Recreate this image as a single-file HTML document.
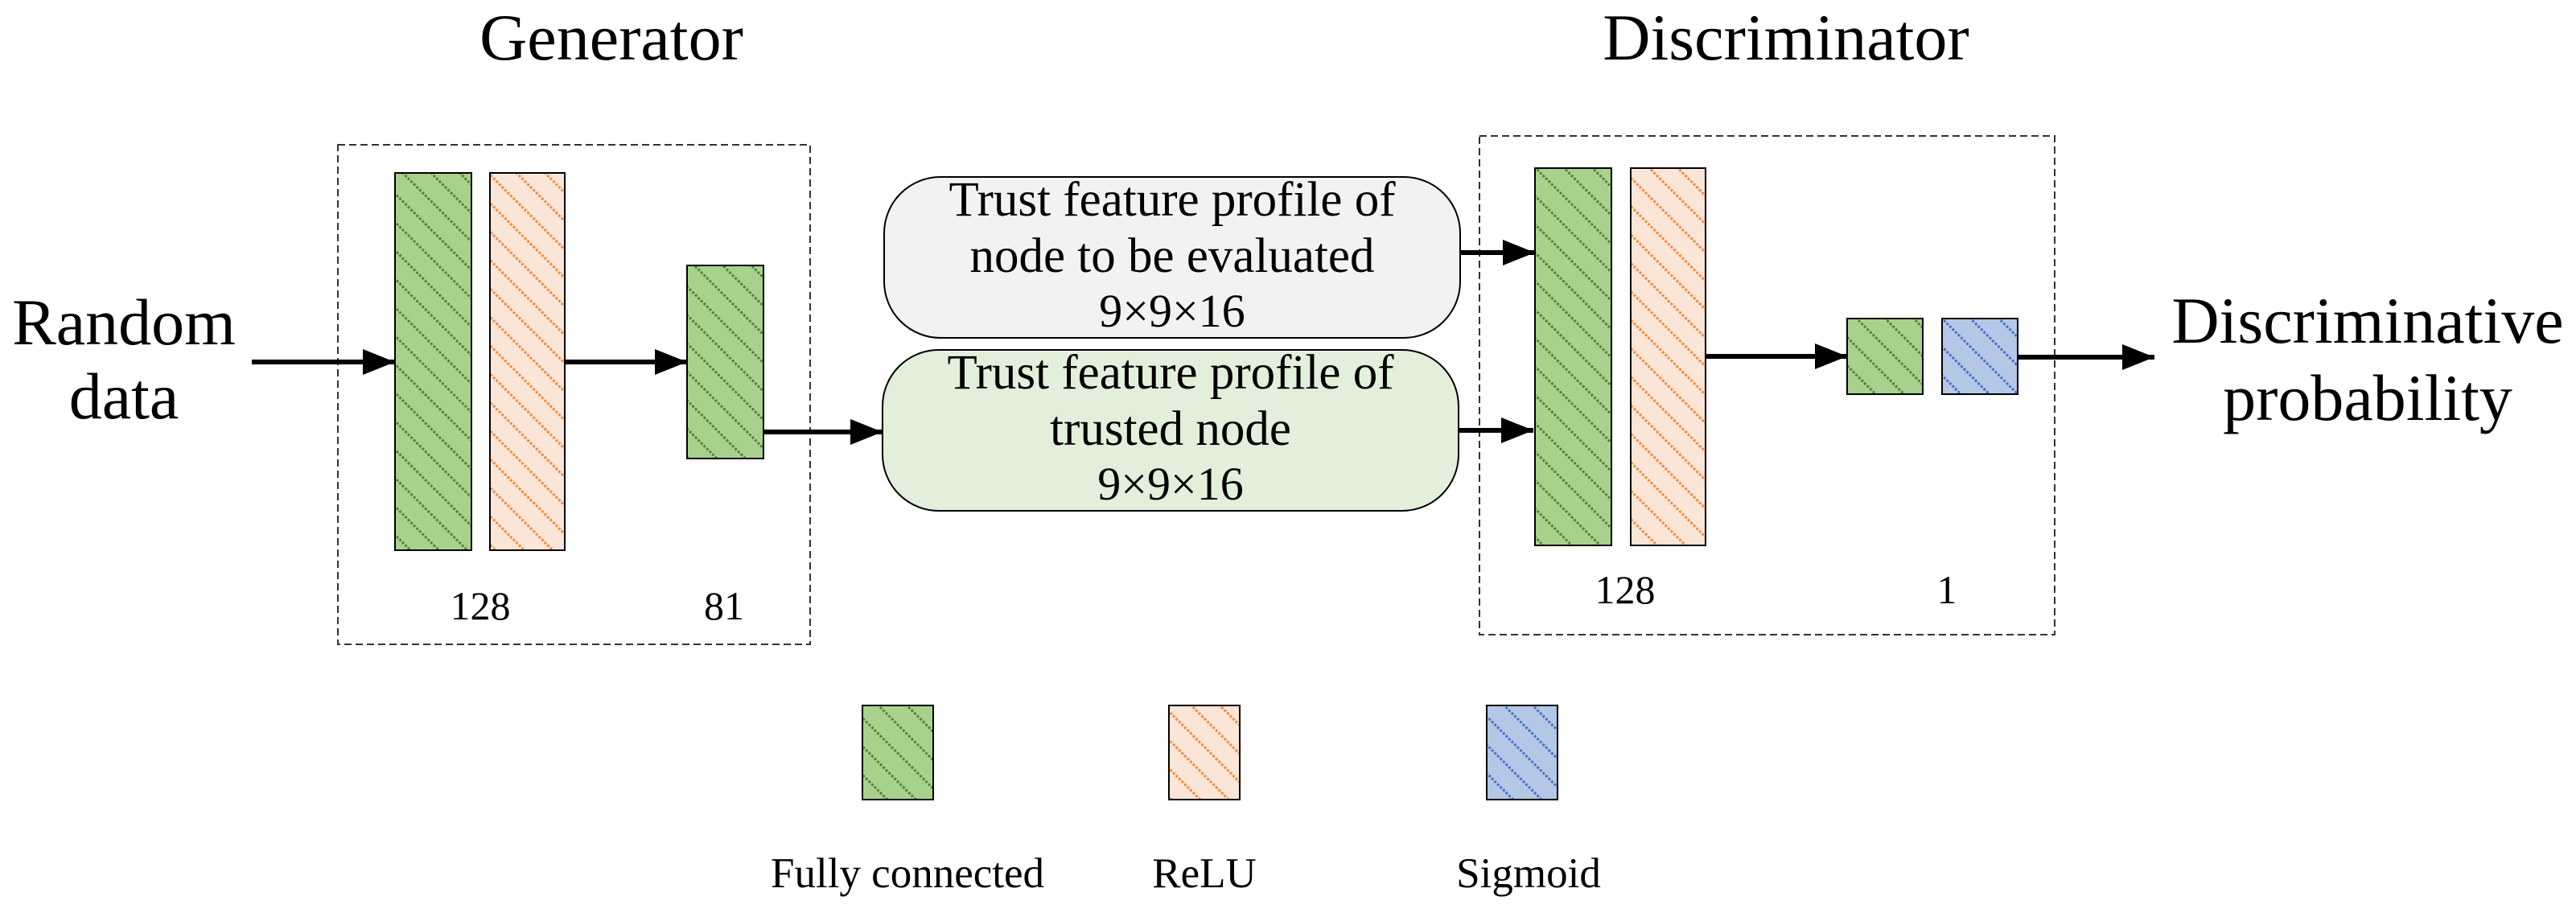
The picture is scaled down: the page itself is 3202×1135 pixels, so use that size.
<!DOCTYPE html>
<html><head><meta charset="utf-8"><style>
html,body{margin:0;padding:0;background:#fff;}
svg{display:block;}
text{font-family:"Liberation Serif",serif;fill:#000;}
</style></head><body>
<svg width="3202" height="1135" viewBox="0 0 3202 1135" xmlns="http://www.w3.org/2000/svg">
<defs>
<pattern id="pg" patternUnits="userSpaceOnUse" width="25" height="25" patternTransform="rotate(-45)">
<rect width="25" height="25" fill="#a9d18e"/><line x1="2" y1="0" x2="2" y2="25" stroke="#548235" stroke-width="3" stroke-dasharray="3 2"/></pattern>
<pattern id="po" patternUnits="userSpaceOnUse" width="25" height="25" patternTransform="rotate(-45)">
<rect width="25" height="25" fill="#fbe5d6"/><line x1="2" y1="0" x2="2" y2="25" stroke="#f08a3c" stroke-width="3" stroke-dasharray="3 2"/></pattern>
<pattern id="pb" patternUnits="userSpaceOnUse" width="25" height="25" patternTransform="rotate(-45)">
<rect width="25" height="25" fill="#b4c7e7"/><line x1="2" y1="0" x2="2" y2="25" stroke="#4472c4" stroke-width="3" stroke-dasharray="3 2"/></pattern>
<marker id="ar" markerWidth="40" markerHeight="32" refX="40" refY="16" orient="auto" markerUnits="userSpaceOnUse">
<path d="M0,0 L40,16 L0,32 Z" fill="#000"/></marker>
</defs>

<text x="760" y="74" font-size="82" text-anchor="middle">Generator</text>
<text x="2220" y="74" font-size="82" text-anchor="middle">Discriminator</text>

<text x="154" y="428" font-size="82" text-anchor="middle">Random</text>
<text x="154" y="520" font-size="82" text-anchor="middle">data</text>

<text x="2943" y="426" font-size="82" text-anchor="middle">Discriminative</text>
<text x="2943" y="522" font-size="82" text-anchor="middle">probability</text>

<!-- generator box -->
<rect x="420" y="180" width="587" height="621" fill="none" stroke="#333" stroke-width="2" stroke-dasharray="9 5"/>
<rect x="491" y="215" width="95" height="469" fill="url(#pg)" stroke="#000" stroke-width="2"/>
<rect x="609" y="215" width="93" height="469" fill="url(#po)" stroke="#000" stroke-width="2"/>
<rect x="854" y="330" width="95" height="240" fill="url(#pg)" stroke="#000" stroke-width="2"/>
<text x="597" y="770" font-size="50" text-anchor="middle">128</text>
<text x="900" y="770" font-size="50" text-anchor="middle">81</text>

<!-- discriminator box -->
<rect x="1839" y="169" width="715" height="620" fill="none" stroke="#333" stroke-width="2" stroke-dasharray="9 5"/>
<rect x="1908" y="209" width="95" height="469" fill="url(#pg)" stroke="#000" stroke-width="2"/>
<rect x="2027" y="209" width="93" height="469" fill="url(#po)" stroke="#000" stroke-width="2"/>
<rect x="2296" y="396" width="94" height="94" fill="url(#pg)" stroke="#000" stroke-width="2"/>
<rect x="2414" y="396" width="94" height="94" fill="url(#pb)" stroke="#000" stroke-width="2"/>
<text x="2020" y="750" font-size="50" text-anchor="middle">128</text>
<text x="2420" y="750" font-size="50" text-anchor="middle">1</text>

<!-- rounded boxes -->
<rect x="1099" y="220" width="716" height="200" rx="70" ry="70" fill="#f2f2f2" stroke="#000" stroke-width="2"/>
<text x="1457" y="268" font-size="61" text-anchor="middle">Trust feature profile of</text>
<text x="1457" y="338" font-size="61" text-anchor="middle">node to be evaluated</text>
<text x="1457" y="406" font-size="58" text-anchor="middle">9×9×16</text>
<rect x="1097" y="435" width="716" height="200" rx="70" ry="70" fill="#e2efda" stroke="#000" stroke-width="2"/>
<text x="1455" y="483" font-size="61" text-anchor="middle">Trust feature profile of</text>
<text x="1455" y="553" font-size="61" text-anchor="middle">trusted node</text>
<text x="1455" y="621" font-size="58" text-anchor="middle">9×9×16</text>

<!-- arrows -->
<g stroke="#000" stroke-width="6" fill="none">
<line x1="313" y1="450" x2="491" y2="450" marker-end="url(#ar)"/>
<line x1="702" y1="450" x2="854" y2="450" marker-end="url(#ar)"/>
<line x1="949" y1="537" x2="1097" y2="537" marker-end="url(#ar)"/>
<line x1="1815" y1="314" x2="1908" y2="314" marker-end="url(#ar)"/>
<line x1="1813" y1="535" x2="1906" y2="535" marker-end="url(#ar)"/>
<line x1="2120" y1="443" x2="2296" y2="443" marker-end="url(#ar)"/>
<line x1="2508" y1="444" x2="2678" y2="444" marker-end="url(#ar)"/>
</g>

<!-- legend -->
<rect x="1072" y="877" width="88" height="117" fill="url(#pg)" stroke="#000" stroke-width="2"/>
<rect x="1453" y="877" width="88" height="117" fill="url(#po)" stroke="#000" stroke-width="2"/>
<rect x="1848" y="877" width="88" height="117" fill="url(#pb)" stroke="#000" stroke-width="2"/>
<text x="1128" y="1103" font-size="53" text-anchor="middle">Fully connected</text>
<text x="1497" y="1103" font-size="53" text-anchor="middle">ReLU</text>
<text x="1900" y="1103" font-size="53" text-anchor="middle">Sigmoid</text>
</svg>
</body></html>
